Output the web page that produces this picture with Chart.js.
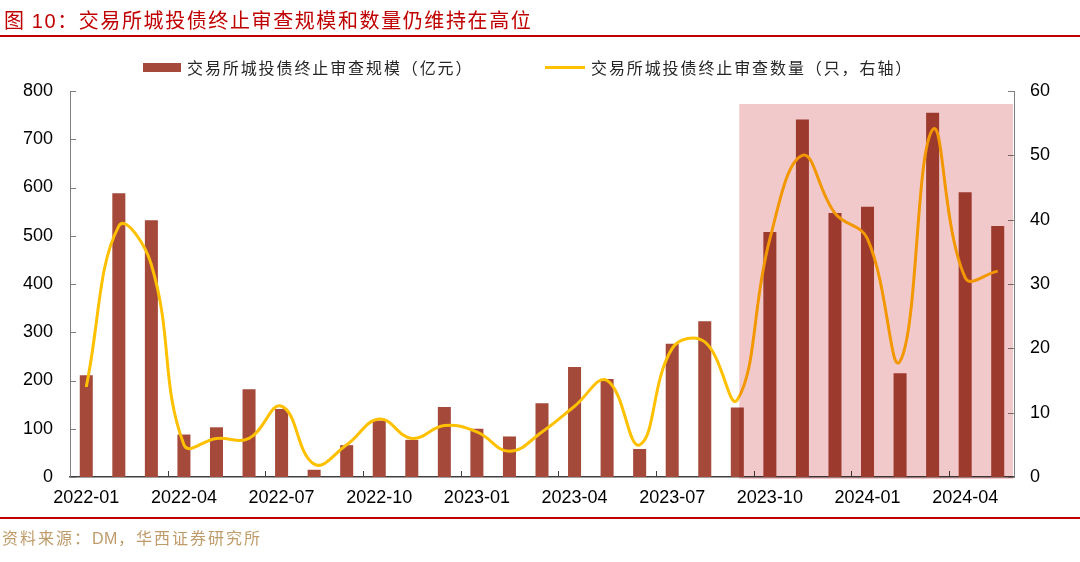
<!DOCTYPE html>
<html lang="zh">
<head>
    <meta charset="UTF-8">
    <title>交易所城投债终止审查规模和数量</title>
    <style>
        body {
            margin: 0;
            background-color: #ffffff;
            font-family: 'Noto Sans CJK SC', sans-serif;
        }

        #wrap {
            position: relative;
            width: 1080px;
            height: 562px;
            overflow: hidden;
        }

        canvas {
            position: absolute;
            left: 0;
            top: 0;
        }

        .title {
            position: absolute;
            left: 4px;
            top: 5px;
            font-size: 20px;
            color: #c00000;
            letter-spacing: 1.6px;
            white-space: nowrap;
        }

        .title .num {
            font-family: 'Liberation Sans', sans-serif;
        }

        .rule {
            position: absolute;
            left: 0;
            width: 1080px;
            height: 2px;
            background-color: #c00000;
        }

        .legend {
            position: absolute;
            top: 55px;
            font-size: 16px;
            color: #262626;
            white-space: nowrap;
            letter-spacing: 1.9px;
        }

        .swatch {
            display: inline-block;
            vertical-align: middle;
            margin-right: 6px;
            position: relative;
            top: -2px;
        }

        .source {
            position: absolute;
            left: 2px;
            top: 525px;
            font-size: 16px;
            color: #bf9b6a;
            letter-spacing: 2px;
            white-space: nowrap;
        }

        .source .num {
            font-family: 'Liberation Sans', sans-serif;
            letter-spacing: 0.5px;
        }
    </style>
</head>
<body>
<div id="wrap">
    <canvas id="chartCanvas" width="1080" height="562"></canvas>
    <div class="title">图 <span class="num">10</span>：交易所城投债终止审查规模和数量仍维持在高位</div>
    <div class="rule" style="top: 35px;"></div>

    <div class="legend" style="left: 143px;">
        <span class="swatch" style="width: 38px; height: 9px; background-color: #a5493a;"></span>交易所城投债终止审查规模（亿元）
    </div>
    <div class="legend" style="left: 545px;">
        <span class="swatch" style="width: 40px; height: 3px; background-color: #ffc000;"></span>交易所城投债终止审查数量（只，右轴）
    </div>

    <div class="rule" style="top: 517px;"></div>
    <div class="source">资料来源：<span class="num">DM</span>，华西证券研究所</div>
</div>

<script src="https://cdn.jsdelivr.net/npm/chart.js@4.4.1/dist/chart.umd.min.js"></script>
<script>
    // months on the x axis
    const months = [
        '2022-01', '2022-02', '2022-03', '2022-04', '2022-05', '2022-06',
        '2022-07', '2022-08', '2022-09', '2022-10', '2022-11', '2022-12',
        '2023-01', '2023-02', '2023-03', '2023-04', '2023-05', '2023-06',
        '2023-07', '2023-08', '2023-09', '2023-10', '2023-11', '2023-12',
        '2024-01', '2024-02', '2024-03', '2024-04', '2024-05'
    ];

    // 终止审查规模 (亿元), left axis
    const terminatedAmount = [
        211, 588, 532, 88, 103, 182, 141, 15, 66, 117, 77, 145,
        100, 84, 153, 228, 203, 58, 276, 323, 144, 508, 741, 547,
        560, 215, 755, 590, 520
    ];

    // 终止审查数量 (只), right axis
    const terminatedCount = [
        14, 39, 33, 5, 6, 6, 11, 2, 5, 9, 6, 8,
        7, 4, 7, 11, 15, 5, 20, 21, 12, 37, 50, 41,
        37, 18, 54, 31, 32
    ];

    const leftTicks = [0, 100, 200, 300, 400, 500, 600, 700, 800];
    const rightTicks = [0, 10, 20, 30, 40, 50, 60];

    // highlighted period: from 2023-09 to the end
    const highlightStart = 20.06;
    const highlightTop = 773;

    const numFont = { family: "'Liberation Sans', Arial, sans-serif", size: 18 };

    // short tick marks pointing into the plot, like the original
    const innerTicks = {
        id: 'innerTicks',
        afterDatasetsDraw(chart) {
            const { ctx, chartArea: a, scales } = chart;
            ctx.save();
            ctx.lineWidth = 1;
            ctx.strokeStyle = '#7f7f7f';
            leftTicks.forEach(v => {
                const py = Math.round(scales.y.getPixelForValue(v)) + 0.5;
                ctx.beginPath();
                ctx.moveTo(a.left, py);
                ctx.lineTo(a.left + 6, py);
                ctx.stroke();
            });
            rightTicks.forEach(v => {
                const py = Math.round(scales.y1.getPixelForValue(v)) + 0.5;
                ctx.beginPath();
                ctx.moveTo(a.right, py);
                ctx.lineTo(a.right - 6, py);
                ctx.stroke();
            });
            ctx.strokeStyle = '#404040';
            for (let i = 3; i < months.length; i += 3) {
                const px = Math.round((scales.x.getPixelForValue(i - 1) + scales.x.getPixelForValue(i)) / 2) + 0.5;
                ctx.beginPath();
                ctx.moveTo(px, a.bottom);
                ctx.lineTo(px, a.bottom - 6);
                ctx.stroke();
            }

            // pink shaded block, multiplied over bars and line
            const x0 = scales.x.getPixelForValue(highlightStart);
            const y0 = scales.y.getPixelForValue(highlightTop);
            ctx.globalCompositeOperation = 'multiply';
            ctx.fillStyle = '#f2c9cb';
            ctx.fillRect(x0, y0, a.right - 1 - x0, a.bottom + 2 - y0);
            ctx.restore();
        }
    };

    const ctx = document.getElementById('chartCanvas').getContext('2d');
    const chart = new Chart(ctx, {
        type: 'bar',
        data: {
            labels: months,
            datasets: [
                {
                    type: 'line',
                    label: '交易所城投债终止审查数量（只，右轴）',
                    data: terminatedCount,
                    yAxisID: 'y1',
                    borderColor: '#ffc000',
                    borderWidth: 3,
                    pointRadius: 0,
                    tension: 0.42,
                    order: 1
                },
                {
                    label: '交易所城投债终止审查规模（亿元）',
                    data: terminatedAmount,
                    yAxisID: 'y',
                    backgroundColor: '#a5493a',
                    borderWidth: 0,
                    categoryPercentage: 1,
                    barPercentage: 0.4,
                    order: 2
                }
            ]
        },
        options: {
            responsive: false,
            animation: false,
            devicePixelRatio: 1,
            layout: { padding: { top: 91, left: 0, right: 0, bottom: 0 } },
            plugins: {
                legend: { display: false },
                tooltip: { enabled: false }
            },
            scales: {
                x: {
                    offset: true,
                    grid: { display: false, drawTicks: false, offset: true },
                    border: { color: '#404040', width: 1.5 },
                    ticks: {
                        autoSkip: false,
                        maxRotation: 0,
                        padding: 10,
                        color: '#000000',
                        font: numFont,
                        callback: (v, i) => (i % 3 === 0 ? months[i] : '')
                    },
                    afterFit: s => { s.height = 85; }
                },
                y: {
                    position: 'left',
                    min: 0,
                    max: 800,
                    grid: { display: false, drawTicks: false },
                    border: { color: '#7f7f7f', width: 1 },
                    ticks: { stepSize: 100, padding: 17, color: '#000000', font: numFont },
                    afterFit: s => { s.width = 70; }
                },
                y1: {
                    position: 'right',
                    min: 0,
                    max: 60,
                    grid: { display: false, drawTicks: false },
                    border: { color: '#7f7f7f', width: 1 },
                    ticks: { stepSize: 10, padding: 16, color: '#000000', font: numFont },
                    afterFit: s => { s.width = 66; }
                }
            }
        },
        plugins: [innerTicks]
    });
</script>
</body>
</html>
